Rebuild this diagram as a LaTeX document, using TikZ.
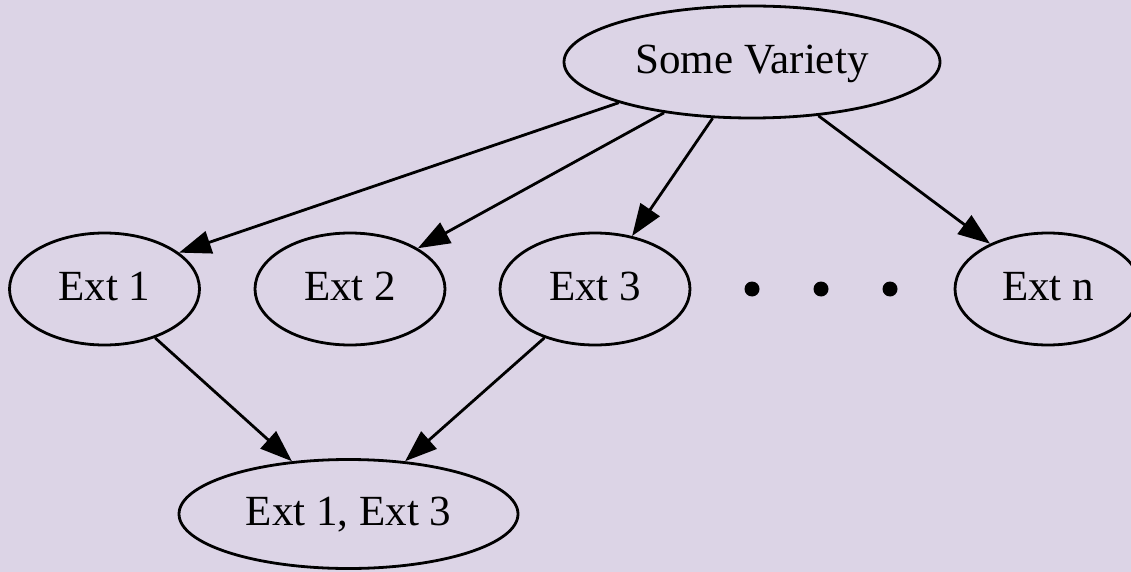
\documentclass[tikz,border=0pt]{standalone}
\usepackage{fontspec}
\setmainfont{Liberation Serif}
\usepackage{xcolor}
\usepackage{tikz}
\usetikzlibrary{shapes.geometric,arrows.meta}
\definecolor{lavender}{RGB}{220,212,230}

\begin{document}
\begin{tikzpicture}[
  x=1pt, y=-1pt,
  font=\fontsize{43}{50}\selectfont,
  ext/.style={draw, ellipse, line width=2.8pt, inner sep=0pt, minimum width=190pt, minimum height=112pt, text height=30pt, text depth=7pt},
  arr/.style={-{Triangle[length=32pt, width=23pt]}, line width=2.8pt},
  dot/.style={circle, fill=black, inner sep=0pt, minimum size=15pt}
]
% page and background
\fill[lavender] (0,0) rectangle (1131,572);
\useasboundingbox (0,0) rectangle (1131,572);
% the variety on top
\node[ext, minimum width=376pt] (sv) at (752,62) {Some Variety};
% row of extensions
\node[ext] (e1) at (104.5,289) {Ext 1};
\node[ext] (e2) at (350,289) {Ext 2};
\node[ext] (e3) at (595,289) {Ext 3};
\node[ext, minimum width=186pt] (en) at (1048,289) {Ext n};
\foreach \x/\n in {752/d1, 821/d2, 890/d3}{\node[dot] (\n) at (\x,289) {};}
% joint extension
\node[ext, minimum width=339pt, minimum height=109pt] (e13) at (348.5,514) {Ext 1, Ext 3};
% edges
\foreach \a/\sa/\b/\eb in {sv/197/e1/26, sv/210/e2/31, sv/235/e3/55, sv/-39/en/142, e1/-44/e13/137, e3/224/e13/43}{\draw[arr] (\a.\sa) -- (\b.\eb);}
\end{tikzpicture}
\end{document}
